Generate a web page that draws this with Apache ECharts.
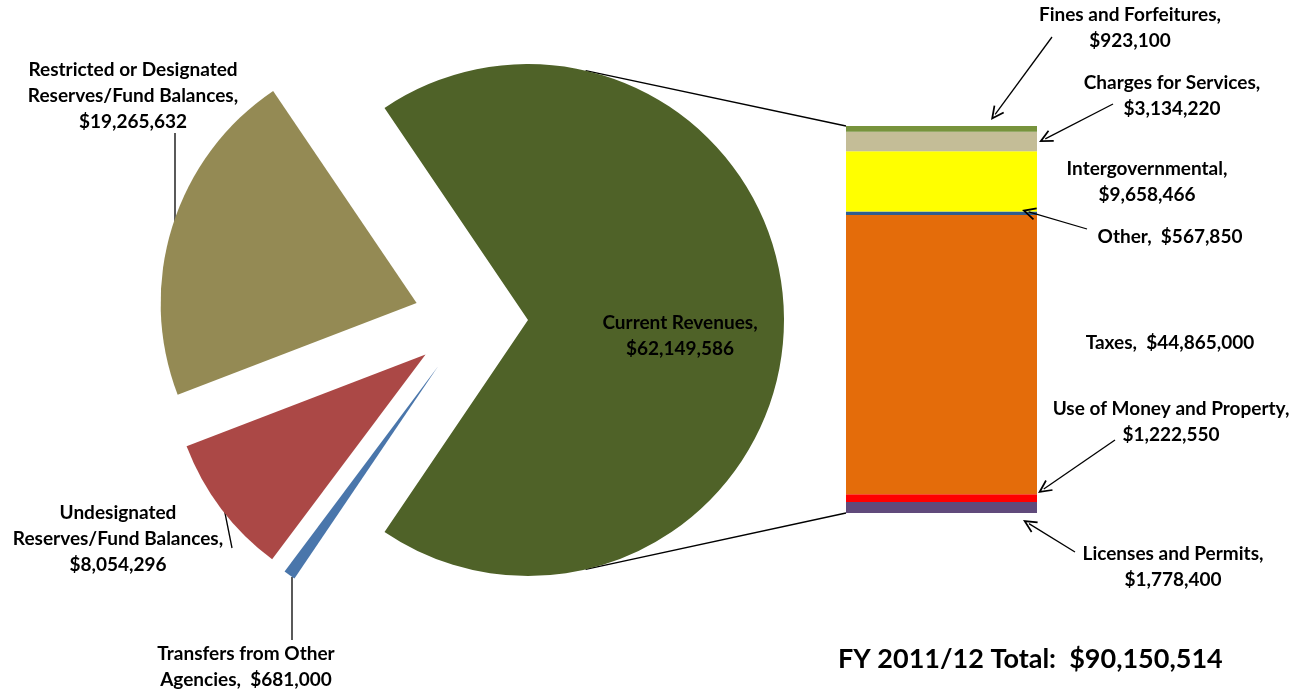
<!DOCTYPE html>
<html>
<head>
<meta charset="utf-8">
<script src="https://cdn.jsdelivr.net/npm/echarts@6/dist/echarts.min.js"></script>
<style>
  html, body { margin: 0; padding: 0; background: #fff; }
  #chart-box { width: 1309px; height: 692px; }
</style>
</head>
<body>
<div id="chart-box"></div>
<script>
// pie: the current revenues slice first, then the others clockwise
const pieNames = ['Current Revenues', 'Transfers from Other\nAgencies', 'Undesignated\nReserves/Fund Balances', 'Restricted or Designated\nReserves/Fund Balances'];
const pieValues = [62149586, 681000, 8054296, 19265632];
const pieSeps = ['\n', '  ', '\n', '\n'];
const pieColors = ['#4F6228', '#4A76AB', '#AB4846', '#948A54'];

// bar: breakdown of current revenues, bottom to top
const barNames = ['Licenses and Permits', 'Use of Money and Property', 'Taxes', 'Other', 'Intergovernmental', 'Charges for Services', 'Fines and Forfeitures'];
const barValues = [1778400, 1222550, 44865000, 567850, 9658466, 3134220, 923100];
const barSeps = ['\n', '\n', '  ', '  ', '\n', '\n', '\n'];
const barColors = ['#604A7B', '#FF0000', '#E46C0A', '#2F5D8E', '#FFFF00', '#C4BD97', '#77933C'];

const titleText = 'FY 2011/12 Total:  $';

function money(v) {
    return '$' + v.toLocaleString('en-US');
}

// layout
const pieCx = 471, pieCy = 320, pieR = 256, explode = 57;
const gridL = 846, gridT = 126, gridW = 191, gridH = 387;

const pieLabelPos = [[680, 336], [246, 667], [118, 539], [133, 96]];
const pieLeader = [null, [[292, 577], [292, 640]], [[224, 508], [232, 548]], [[175, 225], [175, 133]]];
const barLabelPos = [[1173, 567], [1171, 422], [1170, 343], [1170, 237], [1147, 182], [1172, 96], [1130, 28]];
const barArrows = [[[1075, 552], [1023, 520]], [[1115, 440], [1038, 493]], null, [[1087, 229], [1022, 210]], null, [[1113, 104], [1039, 142]], [[1052, 37], [991, 120]]];

const font = 'Lato';
const fontSize = 19;
const labelStyle = { fontFamily: font, fontWeight: 'bold', fontSize: fontSize, lineHeight: 26, color: '#000', align: 'center' };

let pieTotal = pieValues.reduce((a, b) => a + b, 0);
let barTotal = barValues.reduce((a, b) => a + b, 0);
let startAngle = 360 * pieValues[0] / pieTotal / 2;

let myChart = echarts.init(document.getElementById('chart-box'), null, { renderer: 'canvas' });

let arrowPath = 'path://M5,0 L10,11 L8.8,11.6 L5,3.4 L1.2,11.6 L0,11 Z';
let arrowLines = [];
barArrows.forEach(a => {
    if (!a) return;
    let dx = a[1][0] - a[0][0], dy = a[1][1] - a[0][1];
    let len = Math.sqrt(dx * dx + dy * dy);
    // pull the end back so the tip of the arrow sits on the point
    let ex = a[1][0] - dx / len * 7, ey = a[1][1] - dy / len * 7;
    arrowLines.push([{ x: a[0][0], y: a[0][1] }, { x: ex, y: ey }]);
});

let barSeries = barNames.map((name, i) => {
    let s = {
        name: name,
        type: 'bar',
        stack: 'rev',
        barWidth: '100%',
        silent: true,
        itemStyle: { color: barColors[i] },
        label: Object.assign({
            show: true,
            position: 'inside',
            formatter: name + ',' + barSeps[i] + money(barValues[i])
        }, labelStyle),
        data: [barValues[i]]
    };
    if (i === 0) {
        s.markLine = {
            silent: true,
            symbol: ['none', arrowPath],
            symbolSize: [13, 14],
            label: { show: false },
            lineStyle: { color: '#000', width: 1.3, type: 'solid' },
            data: arrowLines
        };
    }
    return s;
});

// connector lines from the current revenues slice to the bar corners
let gx = pieCx + explode, a1 = 77 * Math.PI / 180;
let connTop = [gx + pieR * Math.cos(a1), pieCy - pieR * Math.sin(a1)];
let connBot = [gx + pieR * Math.cos(a1), pieCy + pieR * Math.sin(a1)];

let graphics = [
    {
        type: 'line',
        silent: true,
        shape: { x1: connTop[0], y1: connTop[1], x2: gridL, y2: gridT },
        style: { stroke: '#000', lineWidth: 1.3 }
    },
    {
        type: 'line',
        silent: true,
        shape: { x1: connBot[0], y1: connBot[1], x2: gridL, y2: gridT + gridH },
        style: { stroke: '#000', lineWidth: 1.3 }
    },
    {
        type: 'text',
        left: 838,
        top: 646,
        style: {
            text: titleText + pieTotal.toLocaleString('en-US'),
            fontFamily: font, fontWeight: 'bold', fontSize: 27, fill: '#000'
        }
    }
];

// pie slice labels with their leader lines
pieNames.forEach((name, i) => {
    graphics.push({
        type: 'text',
        silent: true,
        x: pieLabelPos[i][0],
        y: pieLabelPos[i][1],
        style: {
            text: name + ',' + pieSeps[i] + money(pieValues[i]),
            fontFamily: font, fontWeight: 'bold', fontSize: fontSize, lineHeight: 26,
            fill: '#000', align: 'center', verticalAlign: 'middle'
        },
        z: 10
    });
    if (pieLeader[i]) {
        let l = pieLeader[i];
        graphics.push({
            type: 'line',
            silent: true,
            shape: { x1: l[0][0], y1: l[0][1], x2: l[1][0], y2: l[1][1] },
            style: { stroke: '#000', lineWidth: 1.3 }
        });
    }
});

let option = {
    animation: false,
    backgroundColor: '#fff',
    grid: { left: gridL, top: gridT, width: gridW, height: gridH },
    xAxis: { type: 'category', data: ['Current Revenues'], show: false },
    yAxis: { type: 'value', min: 0, max: barTotal, show: false },
    graphic: graphics,
    labelLayout: function (params) {
        if (params.seriesIndex === 0) return {};
        let p = barLabelPos[params.seriesIndex - 1];
        return { x: p[0], y: p[1], align: 'center', verticalAlign: 'middle' };
    },
    series: [
        {
            type: 'pie',
            center: [pieCx, pieCy],
            radius: pieR,
            startAngle: startAngle,
            clockwise: true,
            selectedMode: 'multiple',
            selectedOffset: explode,
            silent: true,
            label: { show: false },
            labelLine: { show: false },
            select: { itemStyle: { borderWidth: 0 } },
            data: pieNames.map((name, i) => ({
                name: name,
                value: pieValues[i],
                selected: true,
                itemStyle: { color: pieColors[i] }
            }))
        }
    ].concat(barSeries)
};

myChart.setOption(option, true);
</script>
</body>
</html>
